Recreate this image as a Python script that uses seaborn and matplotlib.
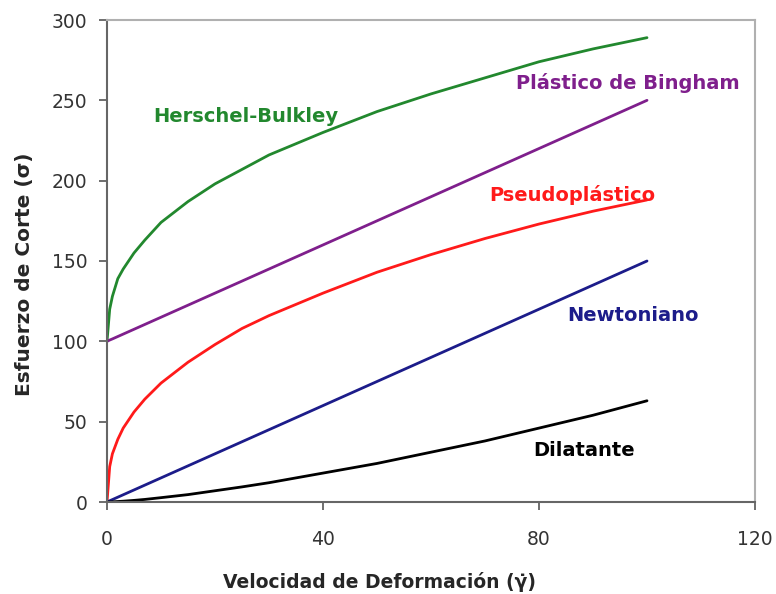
import numpy as np
import pandas as pd
import matplotlib
matplotlib.use("Agg")
import matplotlib.pyplot as plt
import seaborn as sns

# Read-off values
x_vals = [0, 0.5, 1, 2, 3, 5, 7, 10, 15, 20, 25, 30, 40, 50, 60, 70, 80, 90, 100]
herschel = [100, 120, 128, 139, 145, 155, 163, 174, 187, 198, 207, 216, 230, 243, 254, 264, 274, 282, 289]
bingham = [100, 100.8, 101.5, 103, 104.5, 107.5, 110.5, 115, 122.5, 130, 137.5, 145, 160, 175, 190, 205, 220, 235, 250]
pseudo = [0, 22, 30, 39, 46, 56, 64, 74, 87, 98, 108, 116, 130, 143, 154, 164, 173, 181, 188]
newton = [0, 0.75, 1.5, 3, 4.5, 7.5, 10.5, 15, 22.5, 30, 37.5, 45, 60, 75, 90, 105, 120, 135, 150]
dilat = [0, 0.05, 0.1, 0.3, 0.5, 1.0, 1.6, 2.7, 4.6, 7.0, 9.4, 12, 18, 24, 31, 38, 46, 54, 63]

series_names = ["Herschel-Bulkley", "Plástico de Bingham", "Pseudoplástico", "Newtoniano", "Dilatante"]
series_vals = [herschel, bingham, pseudo, newton, dilat]
colors = ["#22882e", "#7f1f8c", "#ff1a1a", "#1c1c8a", "#000000"]

label_pos = {
    "Herschel-Bulkley": (8.6, 240),
    "Plástico de Bingham": (75.7, 261),
    "Pseudoplástico": (70.7, 191),
    "Newtoniano": (85.2, 116),
    "Dilatante": (78.9, 32),
}

rows = []
for name, vals in zip(series_names, series_vals):
    for xv, yv in zip(x_vals, vals):
        rows.append({"x": xv, "y": yv, "serie": name})
df = pd.DataFrame(rows)

sns.set_style("white")
plt.rcParams["font.family"] = ["DejaVu Sans"]

fig = plt.figure(figsize=(7.76, 5.94), dpi=100)
ax = fig.add_axes([107/776, 92/594, 648/776, 482/594])

sns.lineplot(data=df, x="x", y="y", hue="serie", palette=dict(zip(series_names, colors)),
             linewidth=2.0, legend=False, ax=ax, sort=False)

for name, c in zip(series_names, colors):
    px, py = label_pos[name]
    ax.text(px, py, name, color=c, fontsize=14, fontweight="bold", ha="left", va="center")

ax.set_xlim(0, 120)
ax.set_ylim(0, 300)
ax.set_xticks([0, 40, 80, 120])
ax.set_yticks([0, 50, 100, 150, 200, 250, 300])
ax.tick_params(axis="both", which="major", direction="out", length=6, width=1.2,
               colors="#555555", labelcolor="#333333", labelsize=13.5, pad=8,
               left=True, bottom=True)
ax.tick_params(axis="x", pad=14)

for s in ["left", "bottom"]:
    ax.spines[s].set_color("#666666")
    ax.spines[s].set_linewidth(1.5)
for s in ["top", "right"]:
    ax.spines[s].set_color("#b0b0b0")
    ax.spines[s].set_linewidth(1.5)

ax.set_xlabel("Velocidad de Deformación (γ̇)", fontsize=13.5, fontweight="bold")
ax.set_ylabel("Esfuerzo de Corte (σ)", fontsize=14.5, fontweight="bold")
# label centres (figure pixels): x-label at (379, 582), y-label at (25, 274)
ax.xaxis.set_label_coords((379 - 107) / 648, (92 - (594 - 582)) / 482 * -1 + 0, transform=ax.transAxes)
ax.xaxis.label.set_va("center")
ax.yaxis.set_label_coords((25 - 107) / 648, (594 - 274 - 92) / 482, transform=ax.transAxes)
ax.yaxis.label.set_va("center")

fig.savefig("out.png", dpi=100)
